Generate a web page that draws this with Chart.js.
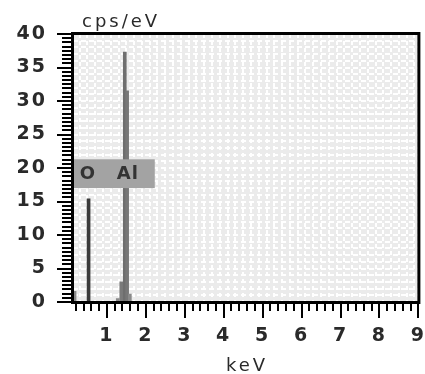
<!DOCTYPE html>
<html>
<head>
<meta charset="utf-8">
<script src="https://cdn.jsdelivr.net/npm/chart.js@4/dist/chart.umd.min.js"></script>
<style>
  html, body { margin: 0; padding: 0; background: #fff; }
  #spec { display: block; }
</style>
</head>
<body>
<canvas id="spec" width="425" height="374"></canvas>
<script>
// EDS spectrum, values
const energies = [0.17, 0.53, 1.28, 1.37, 1.46, 1.52, 1.59];   // keV
const counts   = [1.6, 15.4, 0.5, 3.0, 37.3, 31.5, 1.2];       // cps/eV
const barColors = ['#8a8a8a', '#3a3a3a', '#8a8a8a', '#7a7a7a', '#6e6e6e', '#777777', '#8a8a8a'];

const elementNames = ['O', 'Al'];
const elementEnergies = [0.51, 1.54];

const xTickLabels = ['1', '2', '3', '4', '5', '6', '7', '8', '9'];
const yTickLabels = ['0', '5', '10', '15', '20', '25', '30', '35', '40'];

const X_MIN = 0.13, X_MAX = 9;
const Y_MIN = 0, Y_MAX = 40;

const labelFont = { family: 'DejaVu Sans', size: 19, weight: 'bold' };

// background, label box, axis frame and tick comb
const specDecor = {
  id: 'specDecor',
  beforeDraw(chart) {
    const a = chart.chartArea, c = chart.ctx;
    c.save();
    c.fillStyle = '#ebebeb';
    c.fillRect(a.left, a.top, a.right - a.left, a.bottom - a.top);
    c.restore();
    c.letterSpacing = '2px';   // wide tick digits like the original
  },
  afterDatasetsDraw(chart) {
    const c = chart.ctx, xs = chart.scales.x, ys = chart.scales.y, a = chart.chartArea;
    // element label box
    const bx1 = a.left, bx2 = xs.getPixelForValue(2.23);
    const by1 = ys.getPixelForValue(21.3), by2 = ys.getPixelForValue(17.0);
    c.save();
    c.fillStyle = '#a3a3a3';
    c.fillRect(bx1, by1, bx2 - bx1, by2 - by1);
    c.fillStyle = '#333';
    c.font = 'bold 18px "DejaVu Sans"';
    c.letterSpacing = '1px';
    c.textAlign = 'center';
    c.textBaseline = 'middle';
    elementNames.forEach((n, i) => {
      c.fillText(n, xs.getPixelForValue(elementEnergies[i]), (by1 + by2) / 2 + 1);
    });
    c.restore();
  },
  afterDraw(chart) {
    const c = chart.ctx, xs = chart.scales.x, ys = chart.scales.y, a = chart.chartArea;
    c.save();
    c.strokeStyle = '#000';
    c.lineWidth = 3;
    c.strokeRect(a.left - 0.5, a.top - 0.5, a.right - a.left + 1, a.bottom - a.top + 1);

    // y comb
    c.lineWidth = 2;
    for (let i = 0; i <= 64; i++) {
      const v = i * 0.625;
      const y = Math.round(ys.getPixelForValue(v));
      const len = (i % 8 === 0) ? 16 : 11;
      c.beginPath();
      c.moveTo(a.left, y);
      c.lineTo(a.left - len, y);
      c.stroke();
    }
    // x comb
    for (let i = 1; i <= 45; i++) {
      const v = i * 0.2;
      if (v < X_MIN) continue;
      const x = Math.round(xs.getPixelForValue(v));
      const len = (i % 5 === 0) ? 16 : 9;
      c.beginPath();
      c.moveTo(x, a.bottom);
      c.lineTo(x, a.bottom + len);
      c.stroke();
    }

    // axis titles
    c.fillStyle = '#2a2a2a';
    c.font = '18px "DejaVu Sans"';
    c.letterSpacing = '3px';
    c.textAlign = 'left';
    c.textBaseline = 'alphabetic';
    c.fillText('cps/eV', 82, 27);
    c.textAlign = 'center';
    c.fillText('keV', 247, 371);
    c.restore();
  }
};

new Chart(document.getElementById('spec'), {
  type: 'bar',
  data: {
    datasets: [{
      data: energies.map((e, i) => ({ x: e, y: counts[i] })),
      backgroundColor: barColors,
      barThickness: 3,
      borderWidth: 0
    }]
  },
  options: {
    responsive: false,
    animation: false,
    events: [],
    layout: { padding: { top: 34, right: 6, left: 0, bottom: 0 } },
    plugins: { legend: { display: false }, tooltip: { enabled: false } },
    datasets: { bar: { grouped: false } },
    scales: {
      x: {
        type: 'linear',
        min: X_MIN,
        max: X_MAX,
        offset: false,
        afterBuildTicks(scale) {
          const t = [];
          for (let i = 1; i <= 45; i++) t.push({ value: i * 0.2 });
          scale.ticks = t;
        },
        afterFit(scale) { scale.height = 72; },
        grid: { color: '#ffffff', lineWidth: 2, drawTicks: true, tickLength: 23, tickColor: 'rgba(0,0,0,0)' },
        border: { display: false, dash: [4, 3] },
        ticks: {
          autoSkip: false,
          maxRotation: 0,
          padding: 0,
          color: '#2a2a2a',
          font: labelFont,
          callback(v) {
            const r = Math.round(v);
            if (Math.abs(v - r) < 1e-6 && r >= 1) return xTickLabels[r - 1];
            return '';
          }
        }
      },
      y: {
        min: Y_MIN,
        max: Y_MAX,
        afterFit(scale) { scale.width = 73; },
        grid: { color: '#ffffff', lineWidth: 2, drawTicks: true, tickLength: 26, tickColor: 'rgba(0,0,0,0)' },
        border: { display: false, dash: [5, 3] },
        ticks: {
          stepSize: 1,
          autoSkip: false,
          padding: 0,
          color: '#2a2a2a',
          font: labelFont,
          callback(v) {
            if (v % 5 === 0) return yTickLabels[v / 5];
            return '';
          }
        }
      }
    }
  },
  plugins: [specDecor]
});
</script>
</body>
</html>
